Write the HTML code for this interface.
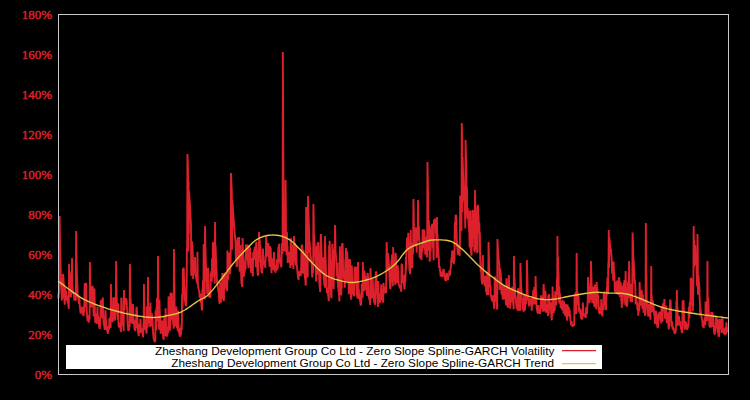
<!DOCTYPE html>
<html><head><meta charset="utf-8"><style>
html,body{margin:0;padding:0;background:#000;width:750px;height:400px;overflow:hidden}
svg{display:block}
.lab{font-family:"Liberation Serif",serif;font-weight:normal;font-size:13px;fill:#dc202c;stroke:#dc202c;stroke-width:0.45px}
.leg{font-family:"Liberation Sans",sans-serif;font-size:10.5px;fill:#000}
</style></head><body>
<svg width="750" height="400" viewBox="0 0 750 400">
<rect x="0" y="0" width="750" height="400" fill="#000"/>
<g class="lab"><text x="52" y="379" text-anchor="end">0%</text><text x="52" y="339" text-anchor="end">20%</text><text x="52" y="299" text-anchor="end">40%</text><text x="52" y="259" text-anchor="end">60%</text><text x="52" y="219" text-anchor="end">80%</text><text x="52" y="179" text-anchor="end">100%</text><text x="52" y="139" text-anchor="end">120%</text><text x="52" y="99" text-anchor="end">140%</text><text x="52" y="59" text-anchor="end">160%</text><text x="52" y="19" text-anchor="end">180%</text></g>
<path d="M58.00 295.1L58.27 296.9L58.54 298.5L58.81 291.8L59.08 294.5L59.35 287.8L59.62 216.0L59.89 235.2L60.16 249.7L60.43 261.0L60.70 269.8L60.97 286.6L61.24 282.7L61.51 287.5L61.78 300.6L62.05 297.8L62.32 292.5L62.59 298.5L62.86 274.0L63.14 275.9L63.41 277.8L63.68 283.1L63.95 284.0L64.22 294.9L64.49 301.2L64.76 304.7L65.03 288.9L65.30 287.7L65.57 295.0L65.84 300.7L66.11 290.7L66.38 296.9L66.65 296.3L66.92 297.9L67.19 295.4L67.46 297.2L67.73 303.3L68.00 301.4L68.27 303.2L68.54 306.7L68.81 308.9L69.08 264.0L69.35 290.7L69.62 283.6L69.89 289.2L70.16 274.2L70.43 282.6L70.70 294.2L70.97 297.3L71.24 271.6L71.51 279.9L71.78 280.4L72.05 258.0L72.32 284.6L72.59 286.6L72.86 293.9L73.14 292.7L73.41 291.9L73.68 293.3L73.95 295.8L74.22 298.8L74.49 299.7L74.76 300.6L75.03 297.4L75.30 298.7L75.57 300.7L75.84 299.8L76.11 231.0L76.38 250.5L76.65 264.3L76.92 274.4L77.19 281.9L77.46 287.6L77.73 297.6L78.00 295.6L78.27 298.4L78.54 300.7L78.81 302.6L79.08 304.2L79.35 297.9L79.62 303.0L79.89 306.9L80.16 309.5L80.43 311.9L80.70 313.5L80.97 307.9L81.24 311.6L81.51 313.0L81.78 306.7L82.05 308.8L82.32 313.0L82.59 313.1L82.86 315.4L83.14 310.4L83.41 314.9L83.68 315.7L83.95 306.2L84.22 312.2L84.49 291.9L84.76 283.0L85.03 286.1L85.30 294.5L85.57 307.0L85.84 283.2L86.11 283.4L86.38 295.7L86.65 307.9L86.92 313.2L87.19 318.1L87.46 321.1L87.73 319.7L88.00 320.6L88.27 315.0L88.54 319.7L88.81 322.7L89.08 316.3L89.35 320.2L89.62 317.7L89.89 262.0L90.16 280.9L90.43 293.3L90.70 301.7L90.97 307.6L91.24 290.0L91.51 293.2L91.78 307.3L92.05 286.2L92.32 286.4L92.59 286.5L92.86 288.0L93.14 298.9L93.41 306.4L93.68 316.4L93.95 300.1L94.22 297.0L94.49 288.4L94.76 307.4L95.03 316.9L95.30 322.6L95.57 318.8L95.84 313.9L96.11 318.7L96.38 323.8L96.65 322.2L96.92 323.0L97.19 313.5L97.46 306.9L97.73 316.9L98.00 315.3L98.27 321.8L98.54 322.1L98.81 325.0L99.08 325.4L99.35 327.7L99.62 328.2L99.89 328.9L100.16 316.8L100.43 317.9L100.70 300.3L100.97 309.8L101.24 309.9L101.51 318.1L101.78 308.1L102.05 299.4L102.32 313.2L102.59 318.2L102.86 297.5L103.14 308.1L103.41 318.5L103.68 324.4L103.95 324.3L104.22 326.6L104.49 327.6L104.76 330.0L105.03 323.9L105.30 317.5L105.57 310.2L105.84 318.2L106.11 324.1L106.38 328.2L106.65 329.6L106.92 330.1L107.19 329.6L107.46 331.2L107.73 332.7L108.00 333.8L108.27 325.7L108.54 326.5L108.81 329.1L109.08 329.7L109.35 318.5L109.62 318.6L109.89 318.4L110.16 325.5L110.43 327.7L110.70 326.9L110.97 284.0L111.24 321.8L111.51 317.6L111.78 313.0L112.05 309.1L112.32 314.2L112.59 321.4L112.86 321.7L113.14 297.9L113.41 297.9L113.68 297.9L113.95 297.9L114.22 299.6L114.49 305.8L114.76 318.9L115.03 320.6L115.30 303.0L115.57 297.9L115.84 297.9L116.11 261.0L116.38 281.3L116.65 294.9L116.92 304.3L117.19 312.4L117.46 315.9L117.73 319.6L118.00 303.2L118.27 315.5L118.54 324.3L118.81 327.3L119.08 324.8L119.35 326.6L119.62 323.4L119.89 323.0L120.16 328.4L120.43 327.5L120.70 330.3L120.97 332.1L121.24 298.6L121.51 297.9L121.78 305.6L122.05 318.7L122.32 325.8L122.59 313.4L122.86 321.2L123.14 323.1L123.41 328.1L123.68 331.1L123.95 290.0L124.22 302.1L124.49 310.1L124.76 298.0L125.03 304.5L125.30 298.3L125.57 298.5L125.84 298.8L126.11 299.0L126.38 299.2L126.65 300.9L126.92 308.0L127.19 308.7L127.46 319.3L127.73 325.3L128.00 328.7L128.27 330.8L128.54 328.3L128.81 328.7L129.08 330.4L129.35 325.5L129.62 327.1L129.89 264.0L130.16 279.2L130.43 301.4L130.70 298.8L130.97 323.3L131.24 319.7L131.51 304.3L131.78 303.9L132.05 313.3L132.32 318.1L132.59 323.9L132.86 304.8L133.14 305.0L133.41 314.7L133.68 323.0L133.95 320.9L134.22 326.3L134.49 329.7L134.76 324.2L135.03 328.2L135.30 331.2L135.57 319.5L135.84 324.3L136.11 328.2L136.38 309.8L136.65 306.8L136.92 309.7L137.19 315.2L137.46 321.2L137.73 327.5L138.00 331.1L138.27 333.3L138.54 334.8L138.81 336.0L139.08 323.8L139.35 327.6L139.62 331.8L139.89 332.5L140.16 332.6L140.43 318.8L140.70 325.2L140.97 330.4L141.24 333.0L141.51 328.2L141.78 332.3L142.05 330.5L142.32 332.9L142.59 334.9L142.86 336.2L143.14 337.3L143.41 323.2L143.68 329.2L143.95 284.0L144.22 300.2L144.49 310.6L144.76 329.7L145.03 319.5L145.30 326.9L145.57 328.2L145.84 330.0L146.11 331.3L146.38 331.8L146.65 333.7L146.92 306.3L147.19 319.6L147.46 327.7L147.73 325.2L148.00 277.0L148.27 323.6L148.54 308.3L148.81 315.8L149.08 319.5L149.35 318.8L149.62 306.8L149.89 321.0L150.16 326.9L150.43 302.4L150.70 315.9L150.97 323.6L151.24 315.0L151.51 326.1L151.78 313.0L152.05 316.7L152.32 319.2L152.59 322.3L152.86 328.3L153.14 333.2L153.41 336.4L153.68 338.4L153.95 339.4L154.22 340.0L154.49 341.0L154.76 341.5L155.03 342.0L155.30 340.8L155.57 310.8L155.84 321.4L156.11 330.3L156.38 307.5L156.65 321.8L156.92 298.4L157.19 298.5L157.46 303.3L157.73 316.0L158.00 256.0L158.27 284.8L158.54 319.5L158.81 325.5L159.08 329.8L159.35 299.7L159.62 306.8L159.89 317.0L160.16 314.9L160.43 327.2L160.70 333.6L160.97 327.2L161.24 333.7L161.51 327.3L161.78 323.5L162.05 322.0L162.32 320.5L162.59 328.4L162.86 332.6L163.14 336.8L163.41 338.5L163.68 339.8L163.95 329.3L164.22 316.9L164.49 322.8L164.76 331.3L165.03 335.9L165.30 331.8L165.57 308.3L165.84 317.9L166.11 328.7L166.38 333.7L166.65 336.8L166.92 331.7L167.19 336.4L167.46 327.7L167.73 327.0L168.00 328.5L168.27 333.2L168.54 297.6L168.81 296.4L169.08 313.4L169.35 305.3L169.62 321.5L169.89 330.6L170.16 324.5L170.43 293.7L170.70 293.3L170.97 292.9L171.24 299.8L171.51 320.3L171.78 293.2L172.05 315.6L172.32 317.2L172.59 310.0L172.86 311.0L173.14 324.7L173.41 321.5L173.68 328.8L173.95 249.0L174.22 272.3L174.49 288.4L174.76 326.1L175.03 308.3L175.30 326.4L175.57 319.0L175.84 323.0L176.11 325.8L176.38 306.6L176.65 323.8L176.92 328.3L177.19 325.2L177.46 325.7L177.73 330.9L178.00 310.5L178.27 317.9L178.54 327.2L178.81 333.1L179.08 331.7L179.35 332.7L179.62 335.9L179.89 334.9L180.16 337.0L180.43 328.0L180.70 332.6L180.97 335.3L181.24 328.5L181.51 324.3L181.78 330.0L182.05 294.4L182.32 307.7L182.59 303.9L182.86 268.5L183.14 294.8L183.41 292.3L183.68 267.5L183.95 274.8L184.22 290.0L184.49 285.7L184.76 300.4L185.03 300.9L185.30 302.4L185.57 304.9L185.84 303.0L186.11 306.1L186.38 299.2L186.65 286.8L186.92 248.6L187.19 247.5L187.46 154.0L187.73 161.5L188.00 168.4L188.27 251.5L188.54 180.7L188.81 234.5L189.08 191.3L189.35 196.0L189.62 200.3L189.89 204.4L190.16 209.4L190.43 214.9L190.70 220.1L190.97 224.9L191.24 275.7L191.51 263.2L191.78 243.5L192.05 241.4L192.32 245.8L192.59 246.9L192.86 256.2L193.14 279.3L193.41 260.6L193.68 269.3L193.95 259.9L194.22 273.5L194.49 266.9L194.76 269.1L195.03 257.0L195.30 272.9L195.57 274.6L195.84 276.2L196.11 277.7L196.38 279.2L196.65 280.6L196.92 281.9L197.19 283.2L197.46 251.7L197.73 277.1L198.00 284.9L198.27 287.8L198.54 288.8L198.81 289.8L199.08 290.7L199.35 291.6L199.62 297.8L199.89 293.3L200.16 297.8L200.43 294.0L200.70 303.0L200.97 299.5L201.24 294.4L201.51 305.6L201.78 308.4L202.05 310.6L202.32 289.5L202.59 299.0L202.86 280.6L203.14 288.6L203.41 296.9L203.68 244.0L203.95 267.9L204.22 285.8L204.49 295.5L204.76 299.3L205.03 226.0L205.30 241.9L205.57 253.7L205.84 262.7L206.11 269.7L206.38 275.0L206.65 279.2L206.92 282.5L207.19 294.1L207.46 287.2L207.73 288.8L208.00 267.7L208.27 280.6L208.54 289.7L208.81 294.7L209.08 296.8L209.35 295.0L209.62 297.5L209.89 295.4L210.16 296.2L210.43 298.0L210.70 273.3L210.97 281.0L211.24 272.3L211.51 270.9L211.78 281.7L212.05 258.6L212.32 263.7L212.59 277.4L212.86 242.2L213.14 242.8L213.41 243.9L213.68 245.0L213.95 258.1L214.22 255.5L214.49 272.9L214.76 283.7L215.03 222.0L215.30 251.7L215.57 245.2L215.84 253.8L216.11 260.9L216.38 266.9L216.65 271.9L216.92 282.4L217.19 280.0L217.46 283.2L217.73 286.0L218.00 288.4L218.27 290.5L218.54 292.4L218.81 293.7L219.08 298.3L219.35 301.7L219.62 303.8L219.89 298.9L220.16 281.8L220.43 290.8L220.70 298.6L220.97 302.8L221.24 283.1L221.51 293.6L221.78 298.3L222.05 298.1L222.32 273.1L222.59 277.5L222.86 284.0L223.14 293.1L223.41 296.6L223.68 301.1L223.95 299.8L224.22 273.4L224.49 273.4L224.76 280.1L225.03 286.9L225.30 273.5L225.57 275.0L225.84 283.7L226.11 288.6L226.38 287.4L226.65 288.6L226.92 291.1L227.19 285.7L227.46 250.4L227.73 265.6L228.00 274.9L228.27 279.8L228.54 263.8L228.81 272.3L229.08 252.5L229.35 255.7L229.62 267.6L229.89 274.0L230.16 272.4L230.43 267.1L230.70 252.7L230.97 173.0L231.24 179.4L231.51 185.2L231.78 190.5L232.05 249.7L232.32 199.8L232.59 203.8L232.86 207.5L233.14 211.6L233.41 216.1L233.68 220.2L233.95 224.1L234.22 227.7L234.49 231.0L234.76 234.2L235.03 237.1L235.30 239.8L235.57 242.4L235.84 260.4L236.11 247.1L236.38 260.7L236.65 267.1L236.92 253.1L237.19 266.7L237.46 239.5L237.73 238.5L238.00 237.6L238.27 253.5L238.54 239.9L238.81 260.3L239.08 237.0L239.35 257.8L239.62 271.6L239.89 270.5L240.16 254.5L240.43 245.1L240.70 260.4L240.97 267.7L241.24 277.9L241.51 283.5L241.78 283.8L242.05 286.3L242.32 286.7L242.59 238.0L242.86 247.2L243.14 254.3L243.41 259.9L243.68 264.4L243.95 276.6L244.22 270.1L244.49 271.6L244.76 272.7L245.03 261.6L245.30 261.5L245.57 269.5L245.84 245.3L246.11 245.1L246.38 252.4L246.65 259.6L246.92 244.4L247.19 249.7L247.46 259.9L247.73 255.5L248.00 261.8L248.27 264.9L248.54 268.2L248.81 245.1L249.08 245.7L249.35 250.2L249.62 258.2L249.89 247.4L250.16 250.1L250.43 261.5L250.70 267.4L250.97 269.4L251.24 272.9L251.51 257.9L251.78 265.9L252.05 268.4L252.32 272.7L252.59 274.0L252.86 276.3L253.14 253.3L253.41 252.3L253.68 259.7L253.95 259.1L254.22 249.4L254.49 253.9L254.76 247.5L255.03 247.3L255.30 247.8L255.57 258.5L255.84 267.1L256.11 242.6L256.38 252.7L256.65 241.7L256.92 256.3L257.19 265.8L257.46 270.9L257.73 275.0L258.00 275.1L258.27 274.3L258.54 250.9L258.81 262.7L259.08 232.0L259.35 239.4L259.62 240.1L259.89 241.6L260.16 252.7L260.43 245.6L260.70 258.5L260.97 265.7L261.24 269.3L261.51 271.9L261.78 272.2L262.05 273.4L262.32 267.4L262.59 269.3L262.86 248.6L263.14 253.8L263.41 260.8L263.68 263.8L263.95 264.5L264.22 260.8L264.49 264.8L264.76 263.0L265.03 265.9L265.30 268.0L265.57 255.6L265.84 258.8L266.11 235.0L266.38 240.5L266.65 244.9L266.92 242.5L267.19 245.4L267.46 252.8L267.73 255.2L268.00 256.6L268.27 251.8L268.54 243.2L268.81 251.2L269.08 259.8L269.35 263.3L269.62 266.8L269.89 265.9L270.16 246.2L270.43 254.5L270.70 247.9L270.97 258.2L271.24 267.0L271.51 273.2L271.78 259.6L272.05 269.7L272.32 258.3L272.59 264.4L272.86 266.1L273.14 262.7L273.41 268.3L273.68 270.1L273.95 251.9L274.22 257.1L274.49 265.0L274.76 268.8L275.03 271.7L275.30 271.1L275.57 272.8L275.84 265.2L276.11 267.8L276.38 269.5L276.65 270.4L276.92 259.2L277.19 264.5L277.46 267.4L277.73 269.3L278.00 259.4L278.27 247.1L278.54 256.7L278.81 253.3L279.08 243.8L279.35 252.5L279.62 259.2L279.89 260.3L280.16 263.6L280.43 263.4L280.70 264.4L280.97 264.3L281.24 267.3L281.51 264.1L281.78 243.7L282.05 243.7L282.32 248.3L282.59 253.7L282.86 52.0L283.14 119.6L283.41 163.5L283.68 251.1L283.95 214.2L284.22 229.3L284.49 240.5L284.76 243.3L285.03 243.2L285.30 251.7L285.57 180.0L285.84 208.7L286.11 247.4L286.38 240.4L286.65 255.3L286.92 232.0L287.19 247.6L287.46 245.7L287.73 263.1L288.00 254.2L288.27 257.2L288.54 259.6L288.81 251.7L289.08 261.3L289.35 256.4L289.62 262.3L289.89 260.7L290.16 263.7L290.43 267.9L290.70 238.5L290.97 238.8L291.24 249.3L291.51 259.7L291.78 265.3L292.05 258.6L292.32 263.7L292.59 244.6L292.86 256.6L293.14 264.3L293.41 269.0L293.68 259.6L293.95 236.0L294.22 242.7L294.49 259.5L294.76 261.2L295.03 243.0L295.30 245.7L295.57 257.7L295.84 265.4L296.11 246.3L296.38 252.3L296.65 262.7L296.92 267.7L297.19 268.6L297.46 271.8L297.73 274.7L298.00 276.8L298.27 278.6L298.54 280.0L298.81 272.2L299.08 276.3L299.35 273.6L299.62 270.8L299.89 275.4L300.16 275.7L300.43 271.0L300.70 276.0L300.97 271.2L301.24 266.5L301.51 246.1L301.78 245.5L302.05 244.9L302.32 249.6L302.59 264.6L302.86 273.8L303.14 255.9L303.41 249.9L303.68 253.2L303.95 267.8L304.22 254.8L304.49 268.8L304.76 272.8L305.03 279.4L305.30 279.0L305.57 284.3L305.84 285.5L306.11 207.0L306.38 230.6L306.65 248.2L306.92 261.1L307.19 265.2L307.46 277.7L307.73 275.2L308.00 196.0L308.27 206.4L308.54 215.4L308.81 223.2L309.08 230.0L309.35 253.1L309.62 241.0L309.89 245.5L310.16 249.5L310.43 261.9L310.70 256.2L310.97 259.0L311.24 261.4L311.51 263.6L311.78 265.6L312.05 275.0L312.32 277.5L312.59 270.3L312.86 271.5L313.14 273.0L313.41 204.0L313.68 216.0L313.95 242.7L314.22 234.9L314.49 242.3L314.76 248.7L315.03 254.3L315.30 259.2L315.57 263.4L315.84 267.2L316.11 281.5L316.38 247.3L316.65 246.6L316.92 259.1L317.19 275.0L317.46 244.4L317.73 243.6L318.00 242.9L318.27 242.2L318.54 247.4L318.81 261.2L319.08 270.3L319.35 282.4L319.62 287.0L319.89 287.2L320.16 291.9L320.43 282.9L320.70 237.4L320.97 234.0L321.24 244.7L321.51 252.9L321.78 259.3L322.05 264.2L322.32 268.1L322.59 271.2L322.86 273.6L323.14 257.2L323.41 272.9L323.68 279.9L323.95 276.7L324.22 284.9L324.49 280.0L324.76 287.7L325.03 236.0L325.30 248.5L325.57 258.3L325.84 266.0L326.11 277.3L326.38 277.2L326.65 288.1L326.92 293.0L327.19 287.9L327.46 290.4L327.73 292.6L328.00 294.9L328.27 294.9L328.54 300.1L328.81 300.9L329.08 245.5L329.35 269.4L329.62 240.8L329.89 248.3L330.16 265.6L330.43 279.5L330.70 287.0L330.97 293.4L331.24 297.0L331.51 298.2L331.78 259.8L332.05 276.5L332.32 243.8L332.59 250.2L332.86 264.6L333.14 273.1L333.41 283.4L333.68 289.3L333.95 272.4L334.22 249.1L334.49 255.1L334.76 250.6L335.03 225.0L335.30 236.5L335.57 252.5L335.84 253.6L336.11 257.4L336.38 265.3L336.65 269.8L336.92 273.6L337.19 277.3L337.46 262.6L337.73 279.5L338.00 286.5L338.27 286.5L338.54 291.0L338.81 293.0L339.08 294.8L339.35 301.4L339.62 265.9L339.89 246.3L340.16 256.3L340.43 268.6L340.70 285.3L340.97 287.4L341.24 295.5L341.51 276.0L341.78 288.7L342.05 243.9L342.32 243.6L342.59 243.4L342.86 253.9L343.14 272.2L343.41 271.2L343.68 274.6L343.95 278.8L344.22 278.8L344.49 279.8L344.76 287.8L345.03 280.4L345.30 259.6L345.57 272.7L345.84 248.0L346.11 248.8L346.38 265.8L346.65 281.2L346.92 251.5L347.19 252.3L347.46 258.1L347.73 271.2L348.00 271.1L348.27 281.4L348.54 283.1L348.81 294.2L349.08 271.3L349.35 260.1L349.62 259.3L349.89 260.1L350.16 262.6L350.43 281.2L350.70 291.3L350.97 296.5L351.24 299.6L351.51 291.5L351.78 265.2L352.05 275.0L352.32 282.4L352.59 290.4L352.86 294.5L353.14 291.9L353.41 293.3L353.68 292.7L353.95 295.8L354.22 295.6L354.49 267.7L354.76 267.6L355.03 267.5L355.30 267.3L355.57 267.2L355.84 267.1L356.11 269.0L356.38 283.0L356.65 289.2L356.92 295.1L357.19 296.8L357.46 296.2L357.73 298.7L358.00 262.0L358.27 272.6L358.54 294.5L358.81 289.2L359.08 298.9L359.35 293.4L359.62 297.5L359.89 299.2L360.16 301.3L360.43 303.7L360.70 305.1L360.97 305.5L361.24 302.2L361.51 294.9L361.78 283.6L362.05 293.3L362.32 294.2L362.59 297.7L362.86 262.0L363.14 281.6L363.41 281.3L363.68 287.1L363.95 291.3L364.22 270.5L364.49 272.2L364.76 273.9L365.03 276.5L365.30 282.0L365.57 290.3L365.84 284.9L366.11 290.2L366.38 276.5L366.65 286.7L366.92 295.8L367.19 293.3L367.46 273.8L367.73 273.2L368.00 276.2L368.27 289.2L368.54 294.6L368.81 297.8L369.08 293.6L369.35 300.1L369.62 296.8L369.89 302.0L370.16 305.0L370.43 268.2L370.70 269.4L370.97 285.9L371.24 294.9L371.51 298.8L371.78 294.1L372.05 297.7L372.32 296.6L372.59 278.8L372.86 283.1L373.14 290.5L373.41 297.3L373.68 293.9L373.95 298.5L374.22 302.3L374.49 303.1L374.76 302.9L375.03 304.9L375.30 280.8L375.57 280.8L375.84 271.8L376.11 272.0L376.38 272.2L376.65 283.5L376.92 293.0L377.19 294.7L377.46 300.8L377.73 304.6L378.00 306.9L378.27 281.0L378.54 292.7L378.81 294.2L379.08 298.3L379.35 302.6L379.62 302.8L379.89 300.3L380.16 302.5L380.43 299.8L380.70 294.3L380.97 291.2L381.24 284.2L381.51 294.4L381.78 300.2L382.05 299.6L382.32 291.1L382.59 298.2L382.86 300.9L383.14 302.7L383.41 282.9L383.68 285.2L383.95 291.9L384.22 290.0L384.49 286.7L384.76 291.3L385.03 293.5L385.30 289.7L385.57 290.9L385.84 293.1L386.11 292.2L386.38 265.3L386.65 242.0L386.92 249.5L387.19 267.4L387.46 255.1L387.73 255.9L388.00 253.0L388.27 271.1L388.54 256.3L388.81 268.7L389.08 263.5L389.35 275.8L389.62 279.9L389.89 282.1L390.16 289.1L390.43 288.6L390.70 279.7L390.97 272.5L391.24 268.0L391.51 259.5L391.78 269.9L392.05 254.4L392.32 271.7L392.59 281.0L392.86 286.3L393.14 247.0L393.41 255.8L393.68 262.6L393.95 265.9L394.22 272.5L394.49 276.0L394.76 281.6L395.03 277.5L395.30 285.0L395.57 253.0L395.84 254.5L396.11 268.7L396.38 272.0L396.65 282.1L396.92 277.2L397.19 283.3L397.46 279.7L397.73 265.2L398.00 271.8L398.27 270.8L398.54 279.9L398.81 284.5L399.08 285.6L399.35 285.4L399.62 287.6L399.89 285.3L400.16 288.6L400.43 287.4L400.70 287.8L400.97 289.9L401.24 291.8L401.51 264.5L401.78 264.3L402.05 264.2L402.32 271.3L402.59 280.4L402.86 282.7L403.14 282.1L403.41 275.2L403.68 282.1L403.95 284.6L404.22 286.9L404.49 288.7L404.76 289.2L405.03 274.2L405.30 281.5L405.57 275.9L405.84 256.9L406.11 270.1L406.38 253.2L406.65 250.9L406.92 240.7L407.19 237.7L407.46 240.8L407.73 239.1L408.00 249.6L408.27 232.7L408.54 237.7L408.81 253.1L409.08 262.0L409.35 267.9L409.62 271.5L409.89 271.6L410.16 274.2L410.43 251.0L410.70 230.0L410.97 248.0L411.24 251.2L411.51 261.6L411.78 261.2L412.05 268.1L412.32 266.7L412.59 244.2L412.86 243.9L413.14 253.9L413.41 199.0L413.68 210.2L413.95 227.5L414.22 226.9L414.49 233.2L414.76 227.6L415.03 242.8L415.30 246.5L415.57 244.2L415.84 233.6L416.11 227.6L416.38 237.7L416.65 252.7L416.92 232.8L417.19 241.5L417.46 227.7L417.73 227.7L418.00 200.0L418.27 210.4L418.54 240.1L418.81 226.0L419.08 233.8L419.35 236.9L419.62 257.1L419.89 244.5L420.16 258.4L420.43 249.9L420.70 255.0L420.97 252.0L421.24 254.7L421.51 260.0L421.78 249.4L422.05 243.2L422.32 251.7L422.59 230.0L422.86 230.1L423.14 230.2L423.41 237.8L423.68 248.3L423.95 230.3L424.22 230.3L424.49 233.5L424.76 239.5L425.03 249.4L425.30 254.7L425.57 236.4L425.84 247.3L426.11 244.6L426.38 239.2L426.65 250.1L426.92 257.5L427.19 246.9L427.46 162.0L427.73 177.6L428.00 190.8L428.27 245.4L428.54 250.8L428.81 220.0L429.08 227.2L429.35 233.5L429.62 260.3L429.89 261.4L430.16 229.1L430.43 242.4L430.70 251.6L430.97 231.5L431.24 226.7L431.51 226.1L431.78 225.6L432.05 225.0L432.32 224.4L432.59 223.8L432.86 247.7L433.14 243.8L433.41 255.0L433.68 260.3L433.95 220.9L434.22 220.3L434.49 219.7L434.76 219.1L435.03 218.8L435.30 221.6L435.57 224.4L435.84 227.2L436.11 234.0L436.38 238.0L436.65 257.9L436.92 217.0L437.19 241.0L437.46 234.4L437.73 241.0L438.00 246.5L438.27 251.1L438.54 254.8L438.81 257.5L439.08 268.0L439.35 267.1L439.62 265.8L439.89 271.3L440.16 269.2L440.43 274.1L440.70 276.5L440.97 273.9L441.24 276.6L441.51 271.6L441.78 273.8L442.05 276.6L442.32 276.5L442.59 275.0L442.86 273.5L443.14 270.8L443.41 269.5L443.68 269.5L443.95 271.0L444.22 273.8L444.49 276.7L444.76 277.1L445.03 279.0L445.30 280.2L445.57 280.2L445.84 280.3L446.11 280.9L446.38 273.2L446.65 276.3L446.92 272.8L447.19 276.6L447.46 276.4L447.73 278.9L448.00 280.0L448.27 275.2L448.54 276.0L448.81 275.8L449.08 276.5L449.35 270.5L449.62 272.6L449.89 275.3L450.16 272.0L450.43 269.6L450.70 267.4L450.97 267.6L451.24 261.8L451.51 258.9L451.78 256.1L452.05 253.3L452.32 250.5L452.59 255.6L452.86 262.6L453.14 250.3L453.41 255.1L453.68 259.9L453.95 264.1L454.22 254.5L454.49 260.5L454.76 225.2L455.03 222.4L455.30 239.0L455.57 215.0L455.84 216.0L456.11 214.7L456.38 219.8L456.65 234.9L456.92 247.1L457.19 241.7L457.46 249.5L457.73 252.6L458.00 254.7L458.27 252.0L458.54 251.8L458.81 252.5L459.08 246.8L459.35 252.0L459.62 255.9L459.89 245.5L460.16 196.5L460.43 195.9L460.70 209.8L460.97 229.3L461.24 230.8L461.51 230.2L461.78 123.0L462.05 136.1L462.32 212.1L462.59 157.1L462.86 165.5L463.14 174.5L463.41 184.0L463.68 192.4L463.95 200.0L464.22 187.9L464.49 203.3L464.76 186.6L465.03 218.1L465.30 228.4L465.57 140.0L465.84 151.1L466.11 161.3L466.38 170.6L466.65 195.6L466.92 187.3L467.19 212.9L467.46 218.6L467.73 208.0L468.00 214.0L468.27 218.6L468.54 222.8L468.81 226.8L469.08 230.6L469.35 234.0L469.62 247.4L469.89 210.6L470.16 211.2L470.43 227.8L470.70 248.7L470.97 251.2L471.24 253.5L471.51 255.7L471.78 233.0L472.05 247.0L472.32 210.7L472.59 210.7L472.86 210.6L473.14 210.6L473.41 238.4L473.68 221.9L473.95 222.1L474.22 251.3L474.49 225.6L474.76 252.6L475.03 190.0L475.30 204.5L475.57 216.1L475.84 225.6L476.11 246.2L476.38 250.0L476.65 236.3L476.92 249.7L477.19 253.2L477.46 206.6L477.73 206.1L478.00 205.0L478.27 217.8L478.54 214.8L478.81 224.2L479.08 233.3L479.35 222.7L479.62 252.6L479.89 232.5L480.16 257.6L480.43 262.9L480.70 271.4L480.97 266.9L481.24 269.2L481.51 278.8L481.78 280.9L482.05 282.7L482.32 284.4L482.59 265.4L482.86 255.0L483.14 272.7L483.41 277.4L483.68 281.5L483.95 277.8L484.22 281.1L484.49 283.8L484.76 286.1L485.03 279.4L485.30 275.7L485.57 281.2L485.84 287.6L486.11 292.3L486.38 286.5L486.65 290.0L486.92 295.2L487.19 272.8L487.46 277.1L487.73 287.1L488.00 290.4L488.27 295.3L488.54 242.0L488.81 254.8L489.08 264.7L489.35 272.4L489.62 278.5L489.89 283.4L490.16 287.3L490.43 285.5L490.70 293.3L490.97 295.5L491.24 297.5L491.51 298.5L491.78 300.5L492.05 295.9L492.32 301.3L492.59 295.4L492.86 298.9L493.14 302.2L493.41 298.9L493.68 303.0L493.95 306.3L494.22 308.9L494.49 303.4L494.76 277.7L495.03 276.5L495.30 281.0L495.57 282.5L495.84 288.4L496.11 292.5L496.38 301.6L496.65 300.2L496.92 307.4L497.19 309.6L497.46 239.0L497.73 244.8L498.00 249.7L498.27 253.8L498.54 257.4L498.81 260.3L499.08 262.9L499.35 265.0L499.62 290.1L499.89 268.2L500.16 269.4L500.43 270.4L500.70 273.4L500.97 276.9L501.24 280.2L501.51 294.6L501.78 285.9L502.05 286.1L502.32 290.6L502.59 296.0L502.86 299.4L503.14 296.9L503.41 299.5L503.68 298.5L503.95 286.1L504.22 294.0L504.49 287.8L504.76 295.5L505.03 298.8L505.30 290.3L505.57 297.8L505.84 302.6L506.11 305.5L506.38 278.3L506.65 281.8L506.92 292.3L507.19 298.4L507.46 303.2L507.73 306.4L508.00 307.8L508.27 297.9L508.54 297.3L508.81 275.0L509.08 284.1L509.35 290.6L509.62 303.6L509.89 298.6L510.16 308.8L510.43 302.0L510.70 299.3L510.97 289.1L511.24 294.4L511.51 300.9L511.78 302.4L512.05 294.1L512.32 286.7L512.59 287.6L512.86 296.1L513.14 302.7L513.41 305.9L513.68 309.3L513.95 256.0L514.22 287.0L514.49 277.2L514.76 284.3L515.03 289.9L515.30 299.0L515.57 295.6L515.84 297.7L516.11 303.4L516.38 305.4L516.65 308.7L516.92 307.8L517.19 308.4L517.46 307.4L517.73 310.9L518.00 288.5L518.27 288.8L518.54 298.9L518.81 302.9L519.08 308.4L519.35 306.0L519.62 310.1L519.89 307.0L520.16 311.0L520.43 263.0L520.70 273.3L520.97 281.1L521.24 287.2L521.51 291.9L521.78 300.2L522.05 298.5L522.32 300.8L522.59 310.0L522.86 304.3L523.14 306.7L523.41 309.7L523.68 311.8L523.95 294.7L524.22 300.4L524.49 304.7L524.76 306.7L525.03 310.5L525.30 295.6L525.57 295.8L525.84 301.9L526.11 304.4L526.38 296.3L526.65 300.2L526.92 260.0L527.19 271.8L527.46 280.8L527.73 299.4L528.00 297.4L528.27 297.4L528.54 300.8L528.81 303.5L529.08 305.7L529.35 306.1L529.62 298.5L529.89 303.4L530.16 298.9L530.43 299.0L530.70 300.0L530.97 303.9L531.24 302.8L531.51 305.2L531.78 310.7L532.05 303.6L532.32 297.4L532.59 300.1L532.86 305.3L533.14 290.6L533.41 290.9L533.68 300.0L533.95 303.8L534.22 287.1L534.49 297.2L534.76 294.4L535.03 304.4L535.30 295.2L535.57 276.0L535.84 287.8L536.11 295.8L536.38 301.5L536.65 308.1L536.92 308.4L537.19 310.6L537.46 312.1L537.73 313.3L538.00 312.6L538.27 313.5L538.54 305.0L538.81 310.7L539.08 311.3L539.35 313.8L539.62 311.8L539.89 313.8L540.16 312.3L540.43 311.4L540.70 309.3L540.97 296.1L541.24 295.4L541.51 300.4L541.78 308.1L542.05 301.0L542.32 297.1L542.59 297.4L542.86 306.3L543.14 311.7L543.41 289.8L543.68 284.0L543.95 290.2L544.22 294.6L544.49 303.1L544.76 311.4L545.03 299.2L545.30 290.6L545.57 293.0L545.84 305.5L546.11 312.6L546.38 304.0L546.65 310.7L546.92 309.7L547.19 312.1L547.46 309.2L547.73 311.7L548.00 315.9L548.27 295.6L548.54 306.9L548.81 314.4L549.08 294.0L549.35 297.6L549.62 304.5L549.89 309.9L550.16 306.5L550.43 305.2L550.70 302.2L550.97 309.8L551.24 313.4L551.51 317.8L551.78 320.3L552.05 315.3L552.32 316.0L552.59 286.4L552.86 297.4L553.14 305.4L553.41 310.6L553.68 313.3L553.95 303.9L554.22 306.7L554.49 310.6L554.76 309.8L555.03 296.8L555.30 291.4L555.57 299.7L555.84 298.0L556.11 305.4L556.38 299.8L556.65 296.3L556.92 278.0L557.19 294.7L557.46 236.0L557.73 278.9L558.00 256.9L558.27 289.0L558.54 271.6L558.81 295.0L559.08 302.6L559.35 286.5L559.62 303.8L559.89 293.4L560.16 296.2L560.43 303.4L560.70 308.3L560.97 302.8L561.24 301.4L561.51 306.1L561.78 307.5L562.05 308.8L562.32 309.9L562.59 299.9L562.86 307.3L563.14 305.2L563.41 309.3L563.68 313.6L563.95 301.3L564.22 305.5L564.49 308.2L564.76 309.4L565.03 314.1L565.30 315.8L565.57 304.1L565.84 309.6L566.11 313.5L566.38 317.1L566.65 315.6L566.92 318.8L567.19 320.7L567.46 304.4L567.73 306.6L568.00 312.4L568.27 316.4L568.54 312.1L568.81 307.1L569.08 314.0L569.35 314.0L569.62 309.5L569.89 314.7L570.16 316.3L570.43 319.9L570.70 322.4L570.97 324.1L571.24 325.3L571.51 321.2L571.78 323.6L572.05 325.2L572.32 326.2L572.59 326.8L572.86 323.9L573.14 324.5L573.41 325.9L573.68 325.0L573.95 325.9L574.22 324.5L574.49 298.3L574.76 295.6L575.03 306.5L575.30 314.1L575.57 292.3L575.84 297.0L576.11 308.2L576.38 314.0L576.65 253.0L576.92 286.5L577.19 295.8L577.46 291.3L577.73 294.8L578.00 303.4L578.27 305.1L578.54 295.9L578.81 304.0L579.08 311.5L579.35 311.8L579.62 308.7L579.89 308.7L580.16 313.7L580.43 309.5L580.70 314.3L580.97 317.2L581.24 318.7L581.51 318.5L581.78 319.5L582.05 318.7L582.32 319.3L582.59 311.2L582.86 302.6L583.14 307.6L583.41 312.5L583.68 315.0L583.95 313.7L584.22 316.3L584.49 313.7L584.76 314.2L585.03 316.2L585.30 317.2L585.57 317.3L585.84 317.7L586.11 307.3L586.38 309.4L586.65 312.1L586.92 314.1L587.19 310.2L587.46 303.6L587.73 300.5L588.00 277.0L588.27 289.3L588.54 282.8L588.81 292.2L589.08 290.2L589.35 297.6L589.62 303.3L589.89 286.9L590.16 299.0L590.43 291.6L590.70 288.0L590.97 261.0L591.24 271.2L591.51 278.9L591.78 300.8L592.05 289.6L592.32 302.9L592.59 296.2L592.86 302.6L593.14 286.5L593.41 295.2L593.68 294.0L593.95 302.9L594.22 304.6L594.49 307.2L594.76 286.9L595.03 284.5L595.30 295.7L595.57 304.0L595.84 298.4L596.11 305.2L596.38 309.5L596.65 282.0L596.92 287.9L597.19 288.4L597.46 288.8L597.73 296.8L598.00 295.1L598.27 299.6L598.54 306.1L598.81 310.2L599.08 313.3L599.35 311.4L599.62 311.2L599.89 312.8L600.16 314.2L600.43 306.5L600.70 308.3L600.97 310.6L601.24 299.0L601.51 307.5L601.78 309.8L602.05 313.6L602.32 316.5L602.59 311.7L602.86 305.1L603.14 303.7L603.41 310.1L603.68 293.7L603.95 296.9L604.22 299.6L604.49 291.3L604.76 299.2L605.03 296.8L605.30 302.3L605.57 306.8L605.84 309.5L606.11 310.1L606.38 296.2L606.65 295.9L606.92 287.9L607.19 285.4L607.46 277.6L607.73 289.6L608.00 293.8L608.27 264.2L608.54 261.6L608.81 230.0L609.08 268.1L609.35 237.1L609.62 240.3L609.89 243.3L610.16 246.1L610.43 248.8L610.70 251.2L610.97 249.0L611.24 253.4L611.51 257.3L611.78 259.8L612.05 273.5L612.32 267.0L612.59 264.9L612.86 266.4L613.14 280.7L613.41 270.2L613.68 261.5L613.95 271.8L614.22 275.6L614.49 277.3L614.76 290.5L615.03 291.9L615.30 281.8L615.57 283.2L615.84 284.5L616.11 285.8L616.38 293.7L616.65 288.2L616.92 289.3L617.19 280.5L617.46 291.4L617.73 292.4L618.00 293.4L618.27 294.7L618.54 290.8L618.81 277.2L619.08 278.0L619.35 278.7L619.62 284.1L619.89 296.9L620.16 294.8L620.43 295.8L620.70 282.2L620.97 288.3L621.24 300.8L621.51 300.4L621.78 308.0L622.05 285.8L622.32 295.2L622.59 304.3L622.86 300.1L623.14 287.5L623.41 286.0L623.68 284.5L623.95 283.0L624.22 295.3L624.49 279.9L624.76 287.5L625.03 300.8L625.30 305.3L625.57 271.0L625.84 279.3L626.11 296.3L626.38 290.5L626.65 306.8L626.92 305.7L627.19 305.9L627.46 301.3L627.73 297.9L628.00 284.1L628.27 281.4L628.54 285.4L628.81 298.1L629.08 261.0L629.35 270.4L629.62 285.8L629.89 293.8L630.16 287.4L630.43 301.5L630.70 293.4L630.97 302.1L631.24 283.7L631.51 289.1L631.78 298.2L632.05 302.1L632.32 292.2L632.59 232.5L632.86 240.6L633.14 247.9L633.41 262.7L633.68 260.4L633.95 265.8L634.22 274.1L634.49 283.4L634.76 279.2L635.03 283.0L635.30 286.5L635.57 303.5L635.84 304.1L636.11 295.5L636.38 302.9L636.65 300.5L636.92 302.8L637.19 304.9L637.46 310.0L637.73 307.9L638.00 308.7L638.27 315.7L638.54 309.9L638.81 303.4L639.08 310.0L639.35 311.4L639.62 282.0L639.89 289.4L640.16 295.0L640.43 299.4L640.70 302.9L640.97 305.7L641.24 292.5L641.51 290.1L641.78 291.1L642.05 298.8L642.32 308.2L642.59 308.2L642.86 294.6L643.14 303.3L643.41 308.4L643.68 312.7L643.95 304.9L644.22 300.4L644.49 309.1L644.76 314.2L645.03 315.2L645.30 315.4L645.57 312.7L645.84 223.0L646.11 277.0L646.38 275.6L646.65 296.8L646.92 306.4L647.19 303.6L647.46 308.0L647.73 308.4L648.00 313.0L648.27 316.7L648.54 311.1L648.81 308.9L649.08 305.2L649.35 303.9L649.62 307.1L649.89 313.5L650.16 315.5L650.43 319.7L650.70 306.3L650.97 310.2L651.24 266.0L651.51 302.2L651.78 295.1L652.05 312.3L652.32 308.4L652.59 303.3L652.86 300.4L653.14 311.9L653.41 304.8L653.68 308.2L653.95 309.4L654.22 315.2L654.49 315.4L654.76 320.1L655.03 323.2L655.30 323.7L655.57 311.1L655.84 311.3L656.11 312.5L656.38 319.0L656.65 322.1L656.92 325.3L657.19 324.7L657.46 327.1L657.73 327.8L658.00 327.1L658.27 313.8L658.54 314.1L658.81 314.1L659.08 313.4L659.35 312.7L659.62 311.9L659.89 316.4L660.16 318.4L660.43 320.9L660.70 319.9L660.97 320.5L661.24 323.5L661.51 307.5L661.78 315.5L662.05 320.4L662.32 321.0L662.59 321.4L662.86 303.5L663.14 304.0L663.41 306.7L663.68 311.7L663.95 309.8L664.22 301.1L664.49 299.0L664.76 307.2L665.03 318.8L665.30 317.1L665.57 318.3L665.84 310.4L666.11 305.6L666.38 317.2L666.65 321.3L666.92 323.0L667.19 312.4L667.46 314.2L667.73 312.9L668.00 320.4L668.27 322.2L668.54 326.8L668.81 329.5L669.08 325.8L669.35 311.5L669.62 314.2L669.89 305.5L670.16 300.2L670.43 299.8L670.70 301.7L670.97 313.4L671.24 322.0L671.51 326.8L671.78 322.6L672.05 321.4L672.32 326.6L672.59 329.1L672.86 325.6L673.14 328.4L673.41 330.4L673.68 327.8L673.95 330.2L674.22 331.5L674.49 332.9L674.76 333.9L675.03 332.7L675.30 333.3L675.57 331.5L675.84 331.2L676.11 321.8L676.38 300.7L676.65 314.7L676.92 290.0L677.19 322.5L677.46 306.7L677.73 326.0L678.00 315.7L678.27 318.7L678.54 321.1L678.81 316.1L679.08 317.0L679.35 322.8L679.62 323.6L679.89 325.2L680.16 321.1L680.43 326.5L680.70 326.0L680.97 328.8L681.24 327.7L681.51 330.3L681.78 331.9L682.05 333.0L682.32 331.9L682.59 301.2L682.86 301.0L683.14 300.8L683.41 300.5L683.68 302.2L683.95 315.4L684.22 322.0L684.49 326.4L684.76 329.0L685.03 329.0L685.30 328.8L685.57 326.0L685.84 321.2L686.11 325.6L686.38 323.7L686.65 326.6L686.92 328.5L687.19 329.4L687.46 329.2L687.73 326.7L688.00 327.4L688.27 325.8L688.54 323.6L688.81 307.1L689.08 314.1L689.35 318.3L689.62 304.3L689.89 301.9L690.16 308.6L690.43 313.6L690.70 277.8L690.97 278.5L691.24 293.7L691.51 305.5L691.78 288.9L692.05 278.7L692.32 294.8L692.59 304.0L692.86 311.2L693.14 300.3L693.41 280.0L693.68 226.0L693.95 267.3L694.22 239.5L694.49 245.4L694.76 246.7L695.03 245.2L695.30 247.8L695.57 265.2L695.84 253.0L696.11 255.6L696.38 258.2L696.65 269.5L696.92 283.4L697.19 286.5L697.46 234.0L697.73 247.0L698.00 294.7L698.27 289.1L698.54 275.2L698.81 282.0L699.08 284.1L699.35 286.6L699.62 297.6L699.89 301.7L700.16 315.8L700.43 308.0L700.70 310.6L700.97 312.9L701.24 315.0L701.51 317.1L701.78 318.2L702.05 319.3L702.32 320.3L702.59 326.3L702.86 326.3L703.14 325.3L703.41 326.5L703.68 328.0L703.95 325.0L704.22 321.1L704.49 320.6L704.76 317.4L705.03 320.8L705.30 325.3L705.57 301.5L705.84 305.5L706.11 315.0L706.38 316.2L706.65 307.9L706.92 312.7L707.19 321.1L707.46 261.0L707.73 308.4L708.00 313.0L708.27 297.6L708.54 304.3L708.81 315.6L709.08 313.7L709.35 326.3L709.62 319.7L709.89 327.6L710.16 323.7L710.43 325.2L710.70 326.5L710.97 327.6L711.24 311.9L711.51 313.5L711.78 322.1L712.05 327.0L712.32 312.7L712.59 312.9L712.86 318.3L713.14 315.1L713.41 323.7L713.68 326.1L713.95 330.2L714.22 332.8L714.49 333.2L714.76 334.8L715.03 328.2L715.30 331.6L715.57 331.5L715.84 316.8L716.11 322.4L716.38 328.3L716.65 326.1L716.92 326.5L717.19 318.7L717.46 321.4L717.73 328.0L718.00 331.7L718.27 334.2L718.54 335.6L718.81 336.8L719.08 335.5L719.35 319.0L719.62 324.0L719.89 319.0L720.16 321.5L720.43 328.9L720.70 319.6L720.97 325.7L721.24 328.1L721.51 333.0L721.78 322.7L722.05 318.9L722.32 318.9L722.59 319.5L722.86 327.4L723.14 331.8L723.41 331.2L723.68 332.4L723.95 333.7L724.22 333.1L724.49 333.1L724.76 335.2L725.03 328.1L725.30 327.6L725.57 330.4L725.84 333.2L726.11 334.3L726.38 322.2L726.65 325.8L726.92 328.9L727.19 331.6L727.46 332.1L727.73 330.8L728.00 332.3" fill="none" stroke="#dc202c" stroke-width="1.9" stroke-linejoin="bevel"/>
<path d="M58.0 281.0 L59.9 282.4 L62.5 284.4 L65.5 286.7 L68.9 289.2 L72.5 291.9 L76.2 294.4 L79.7 296.8 L83.0 298.8 L86.1 300.4 L89.2 301.9 L92.4 303.2 L95.5 304.5 L98.6 305.6 L101.8 306.7 L104.9 307.7 L108.0 308.8 L111.2 309.7 L114.4 310.7 L117.6 311.5 L120.8 312.3 L124.0 313.1 L127.1 313.8 L130.1 314.4 L133.0 315.0 L135.8 315.5 L138.4 316.0 L141.0 316.4 L143.5 316.8 L145.9 317.1 L148.3 317.3 L150.7 317.5 L153.0 317.5 L155.3 317.4 L157.7 317.3 L160.0 317.0 L162.2 316.7 L164.4 316.3 L166.5 315.8 L168.6 315.4 L170.5 315.0 L172.3 314.6 L173.9 314.2 L175.4 313.9 L176.9 313.5 L178.3 313.0 L179.8 312.5 L181.4 311.8 L183.0 311.0 L184.8 310.0 L186.7 308.8 L188.7 307.5 L190.7 306.1 L192.6 304.7 L194.5 303.4 L196.3 302.1 L198.0 301.0 L199.5 300.1 L200.8 299.4 L202.0 298.9 L203.2 298.3 L204.3 297.7 L205.4 297.0 L206.7 296.2 L208.0 295.0 L209.4 293.6 L210.9 291.9 L212.5 290.1 L214.1 288.1 L215.7 286.1 L217.3 284.0 L218.9 282.0 L220.5 280.0 L222.1 278.0 L223.6 276.0 L225.2 273.9 L226.8 271.8 L228.3 269.7 L229.9 267.7 L231.4 265.7 L233.0 263.8 L234.6 261.9 L236.1 260.1 L237.7 258.3 L239.2 256.6 L240.8 254.9 L242.4 253.2 L243.9 251.6 L245.5 250.0 L247.0 248.4 L248.6 246.8 L250.1 245.3 L251.6 243.8 L253.1 242.3 L254.7 241.0 L256.3 239.8 L258.0 238.8 L259.8 237.9 L261.6 237.1 L263.4 236.5 L265.3 235.9 L267.3 235.5 L269.2 235.2 L271.1 235.1 L273.0 235.0 L274.9 235.1 L276.8 235.2 L278.7 235.5 L280.7 235.9 L282.6 236.5 L284.4 237.1 L286.2 237.9 L288.0 238.8 L289.7 239.8 L291.3 241.0 L292.9 242.3 L294.4 243.8 L295.9 245.3 L297.4 246.8 L299.0 248.4 L300.5 250.0 L302.1 251.6 L303.6 253.3 L305.2 255.1 L306.8 256.9 L308.3 258.7 L309.9 260.4 L311.4 262.1 L313.0 263.8 L314.6 265.3 L316.1 266.9 L317.7 268.4 L319.2 269.9 L320.8 271.3 L322.4 272.7 L323.9 273.9 L325.5 275.0 L327.0 275.9 L328.6 276.7 L330.1 277.4 L331.6 278.0 L333.1 278.6 L334.7 279.1 L336.3 279.5 L338.0 280.0 L339.7 280.5 L341.5 280.9 L343.3 281.4 L345.2 281.8 L347.1 282.1 L349.0 282.4 L351.0 282.5 L353.0 282.5 L355.1 282.3 L357.3 282.0 L359.6 281.6 L361.9 281.1 L364.2 280.6 L366.4 280.0 L368.5 279.4 L370.5 278.8 L372.3 278.2 L374.0 277.5 L375.6 276.9 L377.1 276.2 L378.5 275.5 L380.0 274.7 L381.5 273.9 L383.0 273.0 L384.6 272.0 L386.1 271.1 L387.7 270.0 L389.2 268.9 L390.8 267.8 L392.4 266.5 L393.9 265.2 L395.5 263.8 L397.0 262.1 L398.6 260.3 L400.1 258.3 L401.6 256.2 L403.1 254.2 L404.7 252.2 L406.3 250.5 L408.0 249.0 L409.8 247.8 L411.7 246.7 L413.7 245.8 L415.7 245.0 L417.6 244.3 L419.5 243.7 L421.3 243.1 L423.0 242.5 L424.4 242.0 L425.7 241.5 L426.8 241.1 L427.8 240.8 L428.9 240.5 L430.1 240.3 L431.4 240.1 L433.0 240.0 L434.9 239.9 L437.0 239.9 L439.2 239.9 L441.6 239.9 L444.0 240.1 L446.3 240.3 L448.5 240.7 L450.5 241.2 L452.3 241.9 L453.9 242.8 L455.4 243.7 L456.9 244.8 L458.3 245.9 L459.8 247.2 L461.4 248.6 L463.0 250.0 L464.8 251.6 L466.6 253.4 L468.4 255.3 L470.3 257.3 L472.3 259.3 L474.2 261.3 L476.1 263.2 L478.0 265.0 L479.9 266.7 L481.8 268.4 L483.6 270.0 L485.5 271.6 L487.4 273.1 L489.2 274.6 L491.1 276.1 L493.0 277.5 L494.8 278.9 L496.5 280.2 L498.2 281.4 L499.9 282.7 L501.6 283.9 L503.5 285.1 L505.6 286.3 L508.0 287.5 L510.7 288.8 L513.7 290.2 L517.0 291.6 L520.3 293.0 L523.7 294.3 L527.0 295.6 L530.2 296.6 L533.0 297.5 L535.5 298.2 L537.8 298.7 L540.0 299.1 L542.1 299.3 L544.1 299.5 L546.1 299.6 L548.2 299.6 L550.5 299.5 L552.9 299.3 L555.3 299.0 L557.7 298.6 L560.2 298.1 L562.7 297.6 L565.3 297.0 L567.9 296.5 L570.5 296.0 L573.2 295.5 L576.1 295.0 L579.1 294.5 L582.1 294.0 L585.0 293.5 L587.8 293.1 L590.5 292.7 L593.0 292.5 L595.2 292.4 L597.2 292.3 L599.1 292.4 L600.8 292.5 L602.6 292.6 L604.3 292.8 L606.1 292.9 L608.0 293.0 L610.1 293.1 L612.2 293.1 L614.4 293.1 L616.7 293.2 L618.9 293.2 L621.0 293.3 L623.1 293.5 L625.0 293.8 L626.7 294.0 L628.1 294.3 L629.5 294.7 L630.8 295.0 L632.1 295.5 L633.6 296.1 L635.4 296.7 L637.5 297.5 L640.0 298.5 L642.9 299.7 L646.0 301.0 L649.2 302.4 L652.6 303.8 L656.0 305.2 L659.3 306.4 L662.5 307.5 L665.6 308.4 L668.8 309.1 L671.9 309.8 L675.0 310.4 L678.1 311.0 L681.2 311.5 L684.4 312.0 L687.5 312.5 L690.7 313.0 L694.0 313.5 L697.3 314.0 L700.6 314.4 L703.8 314.9 L706.9 315.3 L709.8 315.6 L712.5 316.0 L715.0 316.3 L717.4 316.7 L719.7 316.9 L721.8 317.2 L723.7 317.5 L725.4 317.7 L726.9 317.9 L728.0 318.0" fill="none" stroke="#e2c644" stroke-width="1.4"/>
<rect x="58.5" y="14.5" width="670" height="360" fill="none" stroke="#c8c8c8" stroke-width="1"/>
<rect x="66" y="345" width="536" height="24" fill="#fff"/>
<g class="leg">
<text x="155" y="354.5" textLength="399.5" lengthAdjust="spacingAndGlyphs">Zheshang Development Group Co Ltd - Zero Slope Spline-GARCH Volatility</text>
<text x="171.3" y="367" textLength="382.7" lengthAdjust="spacingAndGlyphs">Zheshang Development Group Co Ltd - Zero Slope Spline-GARCH Trend</text>
</g>
<line x1="562" y1="350.6" x2="596" y2="350.6" stroke="#dc202c" stroke-width="1.2"/>
<line x1="562" y1="363.6" x2="596" y2="363.6" stroke="#e2c644" stroke-width="1.2"/>
</svg>
</body></html>
